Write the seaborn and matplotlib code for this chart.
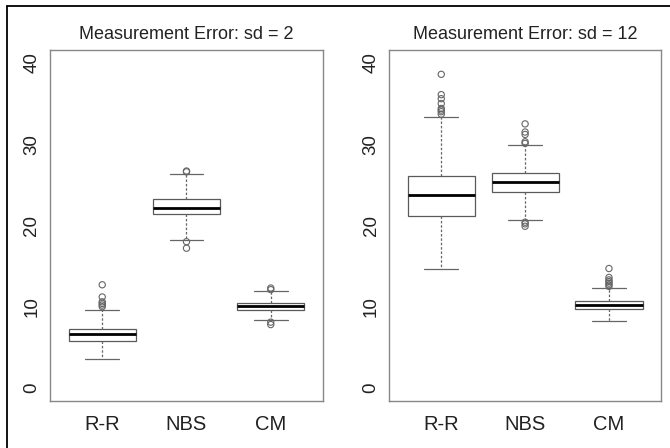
import numpy as np
import pandas as pd
import matplotlib
matplotlib.use("Agg")
import matplotlib.pyplot as plt
from matplotlib.lines import Line2D
import seaborn as sns

methods = ["R-R", "NBS", "CM"]
titles = ["Measurement Error: sd = 2", "Measurement Error: sd = 12"]

# lower whisker, Q1, median, Q3, upper whisker
sd2_rr = [3.6, 5.8, 6.6, 7.3, 9.6]
sd2_nbs = [18.2, 21.4, 22.2, 23.3, 26.3]
sd2_cm = [8.4, 9.6, 10.1, 10.5, 11.9]

sd12_rr = [14.6, 21.2, 23.7, 26.1, 33.4]
sd12_nbs = [20.7, 24.1, 25.3, 26.4, 29.9]
sd12_cm = [8.2, 9.7, 10.25, 10.7, 12.3]

# outlying points
sd2_rr_out = [10.0, 10.2, 10.4, 10.6, 11.2, 12.7]
sd2_nbs_out = [26.6, 26.7, 18.0, 17.2]
sd2_cm_out = [12.1, 12.3, 8.1, 7.8]

sd12_rr_out = [33.7, 34.0, 34.2, 34.4, 35.0, 35.6, 36.1, 38.6]
sd12_nbs_out = [30.1, 30.3, 31.2, 31.5, 32.5, 20.4, 20.2, 19.9]
sd12_cm_out = [12.5, 12.7, 12.9, 13.1, 13.3, 13.6, 14.7]


def long_df(groups):
    rows = []
    for m, vals in zip(methods, groups):
        for v in vals:
            rows.append({"method": m, "value": v})
    return pd.DataFrame(rows)


panels = [
    (long_df([sd2_rr, sd2_nbs, sd2_cm]), long_df([sd2_rr_out, sd2_nbs_out, sd2_cm_out])),
    (long_df([sd12_rr, sd12_nbs, sd12_cm]), long_df([sd12_rr_out, sd12_nbs_out, sd12_cm_out])),
]

sns.set_style("white")
plt.rcParams["font.family"] = ["Liberation Sans", "DejaVu Sans"]
plt.rcParams["text.color"] = "#222222"
plt.rcParams["xtick.color"] = "#555555"
plt.rcParams["ytick.color"] = "#555555"
plt.rcParams["xtick.labelcolor"] = "#222222"
plt.rcParams["ytick.labelcolor"] = "#222222"

fig = plt.figure(figsize=(6.7, 4.48), dpi=100)
ax_pos = [[0.0746, 0.105, 0.4075, 0.7835], [0.581, 0.105, 0.4055, 0.7835]]

for pos, (box_df, out_df), title in zip(ax_pos, panels, titles):
    ax = fig.add_axes(pos)
    sns.boxplot(data=box_df, x="method", y="value", order=methods, whis=np.inf,
                width=0.8, color="white", linecolor="#5a5a5a", linewidth=0.9,
                fliersize=0,
                medianprops=dict(color="black", linewidth=2.0),
                whiskerprops=dict(linestyle=(0, (2, 1.5)), color="#666666"),
                capprops=dict(color="#666666"),
                ax=ax)
    sns.stripplot(data=out_df, x="method", y="value", order=methods, jitter=False,
                  size=4.5, color="#666666", facecolors="none", edgecolor="#666666",
                  linewidth=0.8, ax=ax)
    ax.set_xlim(-0.62, 2.62)
    ax.set_ylim(-1.6, 41.6)
    ax.set_yticks([0, 10, 20, 30, 40])
    ax.set_xlabel("")
    ax.set_ylabel("")
    ax.set_title(title, fontsize=13, pad=8)
    ax.tick_params(axis="x", length=0, pad=10, labelsize=14.5)
    ax.tick_params(axis="y", length=5, width=0.8, pad=2, labelsize=13.5, labelrotation=90)
    for lab in ax.get_yticklabels():
        lab.set_va("center")
    for sp in ax.spines.values():
        sp.set_visible(True)
        sp.set_color("#888888")
        sp.set_linewidth(1.0)

# outer frame lines (top and left)
fig.add_artist(Line2D([7 / 670, 1.0], [1 - 6 / 448, 1 - 6 / 448], color="black", lw=1.3))
fig.add_artist(Line2D([7 / 670, 7 / 670], [0.0, 1 - 6 / 448], color="black", lw=1.3))

fig.savefig("out.png", dpi=100)
